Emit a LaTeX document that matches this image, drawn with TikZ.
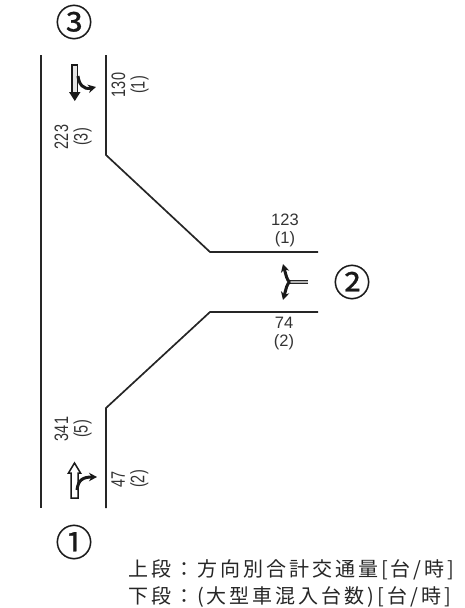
\documentclass[tikz,border=0pt]{standalone}
\usepackage{fontspec}
\setmainfont{Liberation Sans}
\newfontfamily\cjkbig[FakeBold=0.7]{Noto Sans CJK JP}
\newfontfamily\cjkspaced[LetterSpace=15]{Noto Sans CJK JP}
\newfontfamily\narrowsans[FakeStretch=0.74]{Liberation Sans}
\usetikzlibrary{arrows.meta}
\tikzset{
  road/.style={line width=1.7pt,color=black!85},
  bignum/.style={inner sep=0pt,color=black!90,font=\cjkbig\fontsize{37}{37}\selectfont},
  hlabel/.style={inner sep=0pt,align=center,color=black!80,font=\fontsize{16.5}{18}\selectfont},
  vlabel/.style={inner sep=0pt,align=center,rotate=90,color=black!80,font=\narrowsans\fontsize{19.5}{19.5}\selectfont},
  legend/.style={inner sep=0pt,anchor=west,color=black!85,font=\cjkspaced\fontsize{20}{20}\selectfont},
  stem/.style={draw=black!90,fill=black!10,line width=1.5pt},
  branch/.style={draw=black!90,line width=3pt,-{Stealth[length=8pt,width=8.5pt]}},
}
\begin{document}
\begin{tikzpicture}[x=1pt,y=-1pt]
\useasboundingbox (0,0) rectangle (464,608);
% road edges
\coordinate (a1) at (41,55); \coordinate (a2) at (41,508);
\coordinate (b1) at (106,55); \coordinate (b2) at (106,155); \coordinate (b3) at (210,252); \coordinate (b4) at (318,252);
\coordinate (c1) at (318,312); \coordinate (c2) at (210,312); \coordinate (c3) at (106,408); \coordinate (c4) at (106,508);
\draw[road] (a1) -- (a2);
\draw[road] (b1) -- (b2) -- (b3) -- (b4);
\draw[road] (c1) -- (c2) -- (c3) -- (c4);
% circled numbers
\node[bignum] (n3) at (74,22) {③};
\node[bignum] (n2) at (352,282) {②};
\node[bignum] (n1) at (74,542) {①};
% labels
\node[vlabel] (l130) at (130,85) {130\\(1)};
\node[vlabel] (l223) at (73,137) {223\\(3)};
\node[vlabel] (l341) at (73,429) {341\\(5)};
\node[vlabel] (l47) at (130,479) {47\\(2)};
\node[hlabel] (l123) at (285,230) {123\\(1)};
\node[hlabel] (l74) at (284,334) {74\\(2)};
% movement arrows
\coordinate (t3b) at (96,87);
\draw[stem] (72,65) rectangle (77.5,94);
\path[fill=black!90] (69,92) -- (80.5,92) -- (74.8,101) -- cycle;
\draw[branch] (78,76) .. controls (79,84) and (83,90) .. (t3b);
\draw[stem,fill=white] (71,498) -- (71,473) -- (68.5,473) -- (74.5,463) -- (80.5,473) -- (78,473) -- (78,498) -- cycle;
\coordinate (t1b) at (97,477);
\draw[branch] (77,490) .. controls (78,480) and (83,477) .. (t1b);
\coordinate (t2o) at (308,282); \coordinate (t2j) at (290,282);
\draw[draw=black!85,line width=4pt] (t2o) -- (t2j);
\draw[draw=black!30,line width=1.2pt] (t2o) -- (t2j);
\coordinate (t2u) at (283,264); \coordinate (t2d) at (283,300);
\draw[branch] (t2j) .. controls (287,281) and (286,275) .. (t2u);
\draw[branch] (t2j) .. controls (287,283) and (286,289) .. (t2d);
% legend
\node[legend] (leg1) at (128,570) {上段：方向別合計交通量[台/時]};
\node[legend] (leg2) at (128,597) {下段：(大型車混入台数)[台/時]};
\end{tikzpicture}
\end{document}
